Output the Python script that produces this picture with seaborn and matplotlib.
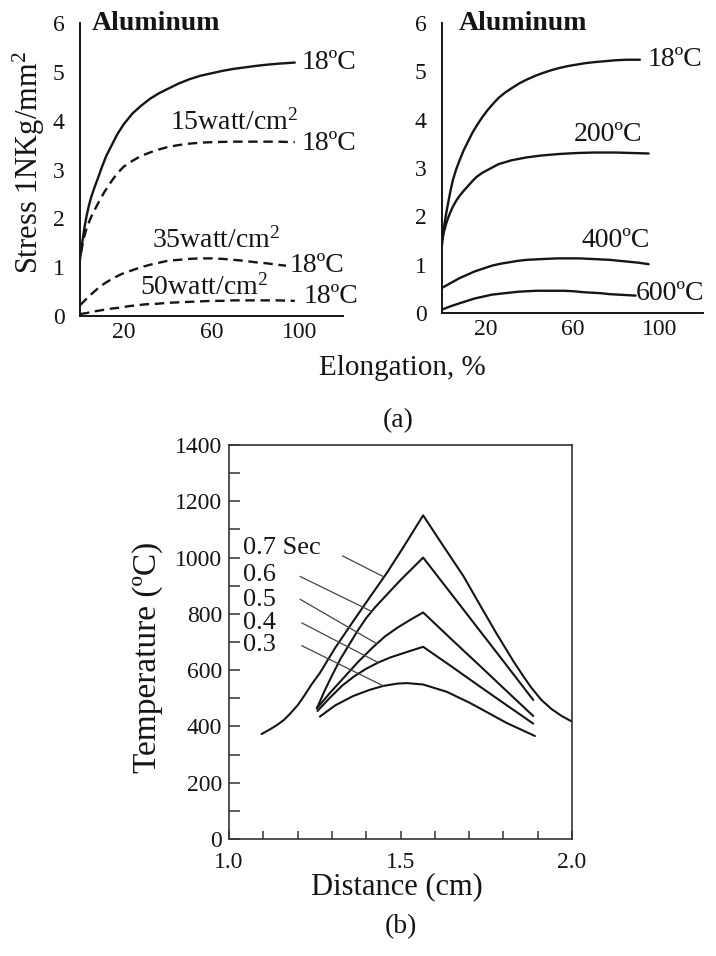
import matplotlib
matplotlib.use("Agg")
import matplotlib.pyplot as plt
from matplotlib.ticker import FixedLocator, MultipleLocator, FormatStrFormatter
import numpy as np
import seaborn as sns

# ---------------- (a) left panel: aluminium at 18 ºC, plain and radiant-heated
elong_18 = [0, 0.5, 1, 2, 3, 4, 5, 6.5, 8, 10, 12, 14.5, 17, 20, 24, 28, 32, 36, 40,
            45, 50, 55, 60, 65, 70, 75, 80, 85, 90, 98]
stress_18 = [1.15, 1.33, 1.5, 1.8, 2.05, 2.25, 2.42, 2.62, 2.8, 3.05, 3.28, 3.5, 3.72,
             3.93, 4.15, 4.31, 4.45, 4.56, 4.65, 4.76, 4.85, 4.92, 4.97, 5.02, 5.06,
             5.09, 5.12, 5.145, 5.165, 5.19]

elong_15w = [0.5, 1.5, 3, 5, 7, 9, 11, 13, 15, 17, 20, 24, 28, 32, 36, 40, 45, 50,
             55, 60, 70, 80, 90, 98]
stress_15w = [1.3, 1.55, 1.8, 2.02, 2.2, 2.37, 2.53, 2.67, 2.8, 2.92, 3.06, 3.18,
              3.28, 3.35, 3.41, 3.46, 3.5, 3.53, 3.55, 3.56, 3.57, 3.57, 3.57, 3.56]

elong_35w = [0, 2, 4, 6.5, 9, 12, 15, 19, 24, 28, 32, 36, 40, 45, 50, 55, 60, 65,
             70, 75, 80, 85, 90, 94]
stress_35w = [0.22, 0.31, 0.4, 0.5, 0.6, 0.69, 0.77, 0.86, 0.94, 1.0, 1.05, 1.09,
              1.13, 1.15, 1.17, 1.18, 1.18, 1.17, 1.15, 1.13, 1.1, 1.08, 1.05, 1.03]

elong_50w = [0, 3, 6, 10, 14, 18, 22, 26, 30, 35, 40, 45, 50, 55, 60, 65, 70, 80,
             90, 98]
stress_50w = [0.04, 0.06, 0.09, 0.12, 0.15, 0.17, 0.2, 0.22, 0.24, 0.25, 0.27, 0.28,
              0.29, 0.3, 0.31, 0.31, 0.32, 0.32, 0.32, 0.31]

# ---------------- (a) right panel: aluminium at test temperature
elong_t18 = [0, 0.5, 1, 2, 3, 4, 5, 6.5, 8, 10, 12, 14, 16, 18.5, 21, 23.5, 26, 29,
             32, 35.5, 39, 42.5, 46, 50, 54, 58, 62, 66, 70, 75, 80, 85, 91]
stress_t18 = [1.4, 1.62, 1.8, 2.08, 2.32, 2.55, 2.75, 2.97, 3.15, 3.37, 3.55, 3.73,
              3.88, 4.05, 4.2, 4.33, 4.45, 4.56, 4.65, 4.75, 4.83, 4.9, 4.96, 5.02,
              5.07, 5.11, 5.14, 5.17, 5.19, 5.21, 5.23, 5.24, 5.24]

elong_t200 = [0, 0.5, 1, 2, 3, 4, 5, 6.5, 8, 10, 12, 14, 16, 18.5, 21, 23.5, 26, 29,
              32, 35.5, 39, 42.5, 46, 50, 54, 58, 62, 70, 80, 95]
stress_t200 = [1.5, 1.6, 1.7, 1.86, 1.99, 2.1, 2.2, 2.32, 2.42, 2.53, 2.63, 2.73,
               2.82, 2.9, 2.96, 3.02, 3.08, 3.12, 3.16, 3.19, 3.22, 3.24, 3.26, 3.275,
               3.29, 3.3, 3.31, 3.32, 3.32, 3.3]

elong_t400 = [0, 4, 8, 11.5, 15, 19, 23, 27, 31, 35, 39, 43.5, 48, 53, 58, 63, 68,
              72.5, 77, 81.5, 86, 90.5, 95]
stress_t400 = [0.52, 0.62, 0.72, 0.79, 0.86, 0.92, 0.98, 1.02, 1.05, 1.08, 1.1, 1.11,
               1.12, 1.13, 1.13, 1.13, 1.12, 1.11, 1.1, 1.08, 1.06, 1.04, 1.01]

elong_t600 = [0, 4, 8, 11.5, 15, 19, 23, 27, 31, 35, 39, 43.5, 48, 52, 56, 60.5, 65,
              69, 73, 77, 81, 85, 89]
stress_t600 = [0.07, 0.14, 0.2, 0.25, 0.3, 0.34, 0.38, 0.4, 0.42, 0.44, 0.45, 0.46,
               0.46, 0.46, 0.46, 0.45, 0.43, 0.42, 0.41, 0.39, 0.38, 0.37, 0.36]

# ---------------- (b) temperature profiles at successive times
dist_07 = [1.095, 1.12, 1.14, 1.16, 1.178, 1.20, 1.22, 1.24, 1.265, 1.31, 1.36, 1.41,
           1.46, 1.51, 1.566, 1.62, 1.683, 1.73, 1.78, 1.83, 1.86, 1.88, 1.91, 1.94,
           1.97, 2.0]
temp_07 = [373, 390, 405, 423, 445, 475, 510, 548, 590, 680, 770, 858,
           945, 1040, 1150, 1050, 935, 835, 730, 630, 575, 540, 495, 462,
           437, 417]

dist_06 = [1.256, 1.28, 1.30, 1.325, 1.35, 1.375, 1.40, 1.425, 1.45, 1.50, 1.566,
           1.65, 1.73, 1.81, 1.887]
temp_06 = [464, 530, 580, 640, 690, 740, 785, 822, 855, 920, 1000,
           868, 742, 616, 494]

dist_05 = [1.256, 1.295, 1.333, 1.377, 1.421, 1.455, 1.49, 1.53, 1.566, 1.65, 1.73,
           1.81, 1.887]
temp_05 = [464, 520, 571, 630, 683, 720, 750, 780, 805, 708, 617, 525, 437]

dist_04 = [1.258, 1.295, 1.33, 1.365, 1.40, 1.435, 1.47, 1.52, 1.566, 1.65, 1.73,
           1.81, 1.887]
temp_04 = [455, 503, 545, 578, 605, 627, 645, 665, 683, 612, 543, 475, 410]

dist_03 = [1.265, 1.31, 1.362, 1.41, 1.45, 1.49, 1.518, 1.566, 1.635, 1.70, 1.732,
           1.81, 1.892]
temp_03 = [435, 475, 508, 530, 544, 552, 554, 549, 523, 485, 464, 412, 366]

time_labels = ["0.7 Sec", "0.6", "0.5", "0.4", "0.3"]

# ---------------- style
sns.set_theme(style="white")
INK = "#151515"
plt.rcParams["font.family"] = ["Liberation Serif", "DejaVu Serif"]
plt.rcParams["mathtext.fontset"] = "custom"
plt.rcParams["mathtext.rm"] = "Liberation Serif"
plt.rcParams["mathtext.it"] = "Liberation Serif:italic"
plt.rcParams["mathtext.bf"] = "Liberation Serif:bold"
plt.rcParams["text.color"] = INK

W, H = 716, 956
fig = plt.figure(figsize=(W / 100, H / 100), dpi=100)
fig.patch.set_facecolor("white")


def box(x0, y0, x1, y1):
    return [x0 / W, 1 - y1 / H, (x1 - x0) / W, (y1 - y0) / H]


axL = fig.add_axes(box(80, 23, 343, 316))
axR = fig.add_axes(box(442, 23, 703, 313))
axB = fig.add_axes(box(229, 445, 572, 839))

DASH = (0, (4, 2.4))
LW = 1.7


def curve(ax, x, y, dashed=False, lw=LW):
    kw = dict(linestyle=DASH) if dashed else {}
    sns.lineplot(x=x, y=y, ax=ax, color=INK, linewidth=lw, sort=False,
                 estimator=None, **kw)


curve(axL, elong_18, stress_18)
curve(axL, elong_15w, stress_15w, dashed=True)
curve(axL, elong_35w, stress_35w, dashed=True)
curve(axL, elong_50w, stress_50w, dashed=True)

curve(axR, elong_t18, stress_t18)
curve(axR, elong_t200, stress_t200)
curve(axR, elong_t400, stress_t400)
curve(axR, elong_t600, stress_t600)

for ax in (axL, axR):
    ax.set_xlim(0, 120)
    ax.set_ylim(0, 6)
    ax.set_facecolor("white")
    for s in ("top", "right"):
        ax.spines[s].set_visible(False)
    for s in ("left", "bottom"):
        ax.spines[s].set_color(INK)
        ax.spines[s].set_linewidth(1.4)
    ax.set_xticks([0, 20, 40, 60, 80, 100, 120])
    ax.set_xticklabels(["", "20", "", "60", "", "100", ""])
    ax.set_yticks(range(7))
    ax.set_yticklabels([str(v) for v in range(7)])
    ax.tick_params(axis="both", direction="in", length=7, width=1.2,
                   color=INK, labelcolor=INK, labelsize=17)
    ax.tick_params(axis="y", pad=11)
    ax.tick_params(axis="x", pad=4)
    ax.set_xlabel("")
    ax.set_ylabel("")

TXT = 20
left_notes = [("18ºC", 101, 5.19),
              ("15watt/cm$^2$", 41, 3.97), ("18ºC", 101, 3.54),
              ("35watt/cm$^2$", 33, 1.55), ("18ºC", 95.5, 1.04),
              ("50watt/cm$^2$", 27.4, 0.59), ("18ºC", 102, 0.39)]
for s, x, y in left_notes:
    axL.text(x, y, s, ha="left", va="center", fontsize=TXT, color=INK)

right_notes = [("18ºC", 94.5, 5.24), ("200ºC", 60.7, 3.69), ("400ºC", 64, 1.51),
               ("600ºC", 89, 0.41)]
for s, x, y in right_notes:
    axR.text(x, y, s, ha="left", va="center", fontsize=TXT, color=INK)

axL.text(5.5, 6.0, "Aluminum", ha="left", va="center", fontsize=TXT,
         fontweight="bold", color=INK)
axR.text(7.5, 6.0, "Aluminum", ha="left", va="center", fontsize=TXT,
         fontweight="bold", color=INK)

fig.text(29 / W, 1 - 163 / H, "Stress 1NKg/mm$^2$", rotation=90,
         ha="center", va="center", fontsize=22, color=INK)
fig.text(402 / W, 1 - 368 / H, "Elongation, %", ha="center", va="center",
         fontsize=21, color=INK)
fig.text(398 / W, 1 - 421 / H, "(a)", ha="center", va="center",
         fontsize=20, color=INK)

# ---------------- (b)
profiles = [(dist_07, temp_07), (dist_06, temp_06), (dist_05, temp_05),
            (dist_04, temp_04), (dist_03, temp_03)]
for xs, ys in profiles:
    curve(axB, xs, ys, lw=1.5)

axB.set_xlim(1.0, 2.0)
axB.set_ylim(0, 1400)
axB.set_facecolor("white")
for s in axB.spines.values():
    s.set_visible(True)
    s.set_color("#333333")
    s.set_linewidth(1.2)
axB.xaxis.set_major_locator(FixedLocator([1.0, 1.5, 2.0]))
axB.xaxis.set_minor_locator(MultipleLocator(0.1))
axB.xaxis.set_major_formatter(FormatStrFormatter("%.1f"))
axB.yaxis.set_major_locator(MultipleLocator(200))
axB.yaxis.set_minor_locator(MultipleLocator(100))
axB.tick_params(which="both", direction="in", color="#333333", width=1.1,
                labelcolor=INK, labelsize=17, top=False, right=False,
                bottom=True, left=True)
axB.tick_params(axis="y", which="both", length=8, pad=5)
axB.tick_params(axis="x", which="both", length=6, pad=9)
axB.set_xlabel("")
axB.set_ylabel("")

# time labels with leader lines running to the rising side of each profile
label_y = [1034, 938, 849, 768, 689]
lead_start = [(1.331, 1006), (1.207, 933), (1.207, 852), (1.212, 768), (1.212, 687)]
lead_end_x = [1.452, 1.416, 1.431, 1.435, 1.45]
for txt, ly, (sx, sy), ex, (xs, ys) in zip(time_labels, label_y, lead_start,
                                            lead_end_x, profiles):
    axB.text(1.041, ly, txt, ha="left", va="center", fontsize=19, color=INK)
    top = int(np.argmax(ys)) + 1
    ey = float(np.interp(ex, xs[:top], ys[:top]))
    axB.plot([sx, ex], [sy, ey], color="#444444", linewidth=0.9)

fig.text(148 / W, 1 - 657 / H, "Temperature (ºC)", rotation=90,
         ha="center", va="center", fontsize=24, color=INK)
fig.text(397 / W, 1 - 887 / H, "Distance (cm)", ha="center", va="center",
         fontsize=22, color=INK)
fig.text(401 / W, 1 - 927 / H, "(b)", ha="center", va="center",
         fontsize=20, color=INK)

fig.savefig("out.png", dpi=100, facecolor="white")
